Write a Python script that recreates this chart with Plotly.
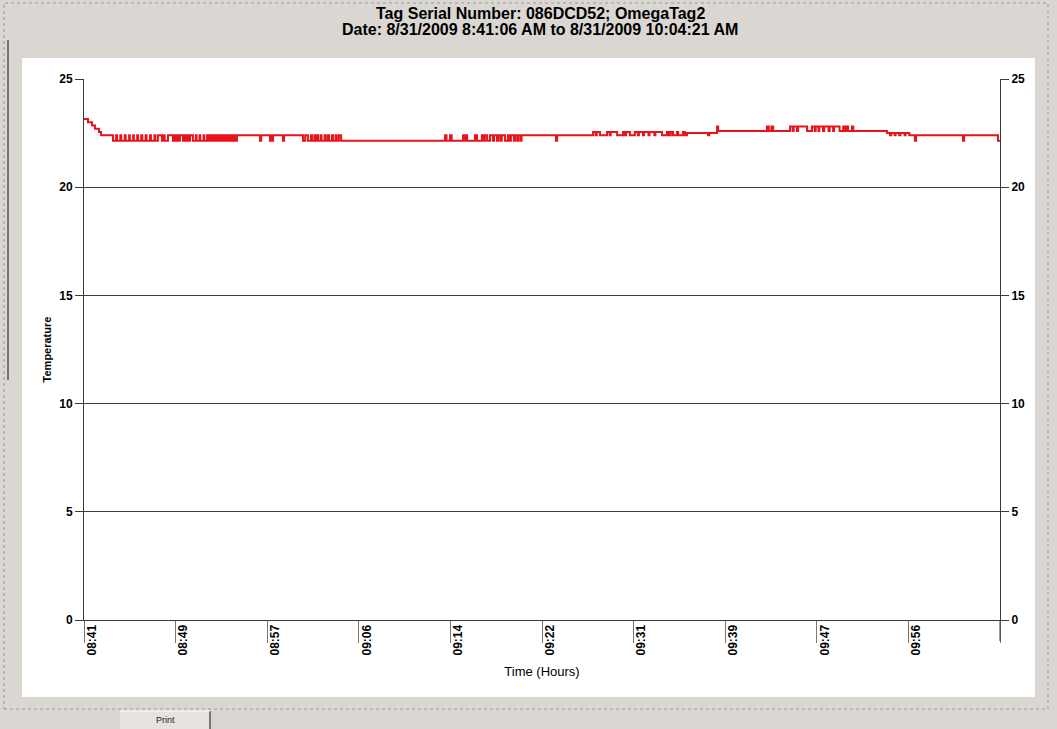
import plotly.graph_objects as go
import pandas as pd

title_line1 = "Tag Serial Number: 086DCD52; OmegaTag2"
title_line2 = "Date: 8/31/2009 8:41:06 AM to 8/31/2009 10:04:21 AM"
x_title = "Time (Hours)"
y_title = "Temperature"
start_time = "2009-08-31 08:41:06"
end_time = "2009-08-31 10:04:21"

# (seconds since start, temperature) – step changes
samples = [
    (0, 23.15), (22, 23.0), (44, 22.85), (60, 22.7), (82, 22.55), (93, 22.4),
    (158, 22.15), (175, 22.4), (180, 22.15), (198, 22.4), (203, 22.15), (222, 22.4), (227, 22.15), (246, 22.4),
    (250, 22.15), (268, 22.4), (272, 22.15), (290, 22.4), (295, 22.15), (312, 22.4), (318, 22.15), (336, 22.4),
    (341, 22.15), (360, 22.4), (365, 22.15), (384, 22.4), (389, 22.15), (403, 22.4),
    (425, 22.15), (436, 22.4), (440, 22.15), (458, 22.4),
    (485, 22.15), (495, 22.4), (501, 22.15), (508, 22.4), (512, 22.15), (523, 22.4),
    (540, 22.15), (550, 22.4), (556, 22.15), (562, 22.4), (567, 22.15), (578, 22.4),
    (594, 22.15), (610, 22.4), (614, 22.15), (630, 22.4), (634, 22.15), (652, 22.4), (656, 22.15), (671, 22.4),
    (675, 22.15), (686, 22.4), (692, 22.15), (700, 22.4), (706, 22.15), (716, 22.4), (724, 22.15), (732, 22.4),
    (740, 22.15), (748, 22.4), (756, 22.15), (764, 22.4), (772, 22.15), (780, 22.4), (790, 22.15), (798, 22.4),
    (808, 22.15), (814, 22.4), (824, 22.15), (834, 22.4),
    (960, 22.15), (966, 22.4), (1014, 22.15), (1020, 22.4), (1026, 22.15), (1031, 22.4), (1085, 22.15), (1091, 22.4),
    (1194, 22.15), (1206, 22.4), (1221, 22.15), (1238, 22.4), (1243, 22.15), (1256, 22.4), (1261, 22.15), (1270, 22.4),
    (1276, 22.15), (1290, 22.4), (1295, 22.15), (1312, 22.4), (1318, 22.15), (1330, 22.4), (1336, 22.15), (1352, 22.4),
    (1358, 22.15), (1372, 22.4), (1378, 22.15), (1390, 22.4),
    (1402, 22.15), (1969, 22.4), (1977, 22.15), (1996, 22.4), (2005, 22.15), (2067, 22.4), (2074, 22.15), (2082, 22.4),
    (2089, 22.15), (2132, 22.4), (2143, 22.15), (2170, 22.4), (2178, 22.15), (2186, 22.4), (2198, 22.15), (2214, 22.4),
    (2230, 22.15), (2236, 22.4), (2252, 22.15), (2258, 22.4), (2270, 22.15), (2278, 22.4), (2296, 22.15), (2312, 22.4),
    (2322, 22.15), (2328, 22.4), (2344, 22.15), (2350, 22.4), (2362, 22.15), (2368, 22.4), (2380, 22.15), (2386, 22.4),
    (2574, 22.15), (2580, 22.4),
    (2776, 22.55), (2790, 22.4), (2796, 22.55), (2814, 22.4), (2852, 22.55), (2866, 22.4), (2872, 22.55), (2907, 22.4),
    (2939, 22.55), (2950, 22.4), (2956, 22.55), (2977, 22.4), (3004, 22.55), (3020, 22.4), (3026, 22.55), (3048, 22.4),
    (3054, 22.55), (3078, 22.4), (3084, 22.55), (3110, 22.4), (3116, 22.55), (3152, 22.4), (3179, 22.55), (3190, 22.4),
    (3200, 22.55), (3212, 22.4), (3234, 22.55), (3240, 22.4), (3266, 22.55), (3277, 22.4), (3288, 22.5), (3403, 22.4),
    (3410, 22.5), (3452, 22.8), (3458, 22.6),
    (3724, 22.8), (3734, 22.6), (3748, 22.8), (3758, 22.6), (3850, 22.8), (3864, 22.6), (3870, 22.8), (3888, 22.6),
    (3894, 22.8), (3943, 22.6), (3970, 22.8), (3985, 22.6), (3990, 22.8), (4005, 22.6), (4010, 22.8), (4030, 22.6),
    (4036, 22.8), (4060, 22.6), (4066, 22.8), (4085, 22.6), (4090, 22.8), (4120, 22.6), (4140, 22.8), (4150, 22.6),
    (4156, 22.8), (4166, 22.6), (4188, 22.8), (4195, 22.6),
    (4379, 22.5), (4395, 22.4), (4402, 22.5), (4420, 22.4), (4426, 22.5), (4445, 22.4), (4452, 22.5), (4475, 22.4),
    (4480, 22.5), (4500, 22.4), (4531, 22.15), (4537, 22.4), (4793, 22.15), (4799, 22.4), (4984, 22.15), (4995, 22.15),
]

x_tick_times = ["2009-08-31 08:41:06", "2009-08-31 08:49:25.5", "2009-08-31 08:57:45",
                "2009-08-31 09:06:04.5", "2009-08-31 09:14:24", "2009-08-31 09:22:43.5",
                "2009-08-31 09:31:03", "2009-08-31 09:39:22.5", "2009-08-31 09:47:42",
                "2009-08-31 09:56:01.5", "2009-08-31 10:04:21"]
x_tick_labels = ["08:41", "08:49", "08:57", "09:06", "09:14", "09:22", "09:31", "09:39", "09:47", "09:56", ""]
y_ticks = [0, 5, 10, 15, 20, 25]

elapsed = [s for s, _ in samples]
temps = [v for _, v in samples]
times = pd.Timestamp(start_time) + pd.to_timedelta(elapsed, unit="s")

FONT = "Liberation Sans, Arial, sans-serif"
BG = "#dad6d2"
AX = "#3a3a3a"

fig = go.Figure()
fig.add_trace(go.Scatter(x=times, y=temps, mode="lines", line=dict(color="#e8141c", width=2, shape="hv"),
                         showlegend=False, hoverinfo="x+y"))
fig.add_trace(go.Scatter(x=[times[0]], y=[temps[0]], yaxis="y2", mode="markers", marker=dict(opacity=0),
                         showlegend=False, hoverinfo="skip"))

W, H = 1057, 729
L, R, T, B = 84, 57, 79, 109
pw, ph = W - L - R, H - T - B


def px(xp):
    return (xp - L) / pw


def py(yp):
    return (H - B - yp) / ph


shapes = [
    dict(type="rect", xref="paper", yref="paper", x0=px(22), x1=px(1035), y0=py(697), y1=py(58),
         fillcolor="white", line=dict(width=0), layer="below"),
    dict(type="rect", xref="paper", yref="paper", x0=px(4), x1=px(1048), y0=py(709), y1=py(3),
         fillcolor="rgba(0,0,0,0)", line=dict(width=1, color="#9a9a9a", dash="dot"), layer="below"),
    dict(type="line", xref="paper", yref="paper", x0=px(8), x1=px(8), y0=py(380), y1=py(40),
         line=dict(width=1.5, color="#555555"), layer="below"),
    dict(type="rect", xref="paper", yref="paper", x0=px(120), x1=px(210), y0=py(729), y1=py(711),
         fillcolor="#e6e3df", line=dict(width=0), layer="below"),
    dict(type="line", xref="paper", yref="paper", x0=px(210), x1=px(210), y0=py(729), y1=py(711),
         line=dict(width=1.5, color="#555555"), layer="below"),
    dict(type="line", xref="paper", yref="paper", x0=px(120), x1=px(210), y0=py(711), y1=py(711),
         line=dict(width=1, color="#ffffff"), layer="below"),
]

title_center_x = px(540)
annotations = [
    dict(text=f"<b>{title_line1}</b>", xref="paper", yref="paper", x=title_center_x, y=py(13), showarrow=False,
         font=dict(size=16, family=FONT, color="black"), xanchor="center", yanchor="middle"),
    dict(text=f"<b>{title_line2}</b>", xref="paper", yref="paper", x=title_center_x, y=py(30), showarrow=False,
         font=dict(size=16, family=FONT, color="black"), xanchor="center", yanchor="middle"),
    dict(text="Print", xref="paper", yref="paper", x=px(165), y=py(720), showarrow=False,
         font=dict(size=9, family=FONT, color="#222222"), xanchor="center", yanchor="middle"),
]

fig.update_layout(
    width=W, height=H,
    margin=dict(l=L, r=R, t=T, b=B, autoexpand=False),
    paper_bgcolor=BG, plot_bgcolor="white",
    font=dict(family=FONT, color="black"),
    xaxis=dict(type="date", range=[start_time, end_time], tickmode="array", tickvals=x_tick_times,
               ticktext=x_tick_labels, tickangle=-90, ticks="outside", ticklen=22, tickcolor="#777777",
               tickwidth=1, showgrid=False, zeroline=False, showline=True, linecolor=AX, linewidth=1,
               tickfont=dict(size=12, family=FONT, weight="bold"), ticklabelstandoff=-23, ticklabelshift=8,
               title=dict(text=x_title, font=dict(size=13, family=FONT), standoff=12)),
    yaxis=dict(range=[0, 25], tickmode="array", tickvals=y_ticks, ticks="outside", ticklen=8, tickcolor=AX,
               showgrid=True, gridcolor=AX, gridwidth=1, zeroline=False, showline=True, linecolor=AX,
               mirror=False, tickfont=dict(size=12, family=FONT, weight="bold"),
               title=dict(text=f"<b>{y_title}</b>", font=dict(size=11, family=FONT), standoff=5)),
    yaxis2=dict(range=[0, 25], overlaying="y", side="right", tickmode="array", tickvals=y_ticks,
                ticks="outside", ticklen=8, tickcolor=AX, showgrid=False, zeroline=False, showline=True,
                linecolor=AX, tickfont=dict(size=12, family=FONT, weight="bold")),
    shapes=shapes,
    annotations=annotations,
)

# right axis line extending below the zero line (as in the reference)
fig.add_shape(type="line", xref="paper", yref="paper", x0=1, x1=1, y0=py(641), y1=0,
              line=dict(width=1, color=AX))

fig.write_html("out.html", config={"displayModeBar": False},
               post_script="document.body.style.margin='0';document.body.style.overflow='hidden';")
